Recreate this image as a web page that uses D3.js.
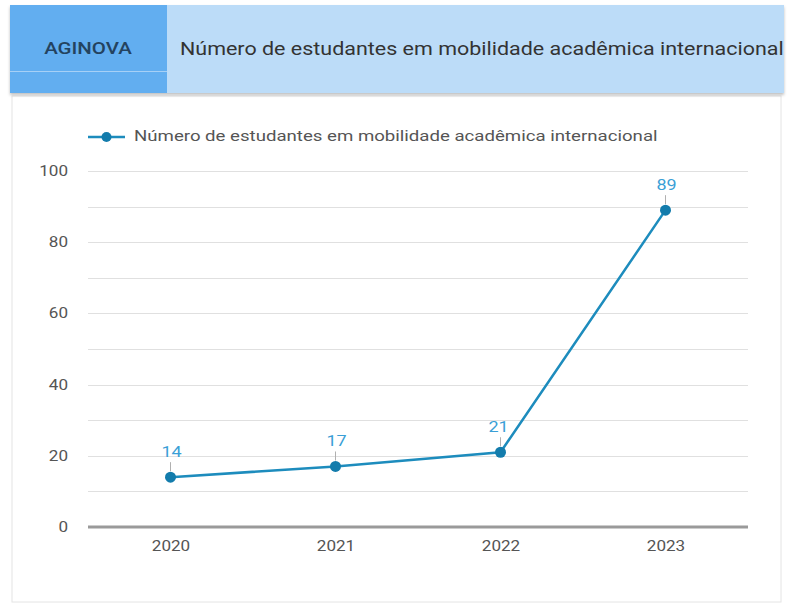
<!DOCTYPE html>
<html lang="pt">
<head>
  <meta charset="UTF-8">
  <title>Mobilidade acadêmica</title>
  <script src="https://d3js.org/d3.v7.min.js"></script>
  <style>
    body {
      margin: 0;
      background: #fff;
      font-family: Roboto, "Noto Sans", sans-serif;
    }
    #chart {
      width: 793px;
      height: 604px;
    }
  </style>
</head>
<body>
  <div id="chart"></div>

  <script>
    const years = ["2020", "2021", "2022", "2023"];
    const students = [14, 17, 21, 89];
    const yTicks = [0, 20, 40, 60, 80, 100];
    const brand = "AGINOVA";
    const title = "Número de estudantes em mobilidade acadêmica internacional";
    const seriesName = "Número de estudantes em mobilidade acadêmica internacional";

    const width = 793, height = 604;
    const margin = { left: 88, right: 45, top: 171, bottom: 77 };

    // the source picture has wide, stretched lettering
    function stretch(sel, k) {
      sel.each(function () {
        const len = this.getComputedTextLength();
        d3.select(this)
          .attr("textLength", len * k)
          .attr("lengthAdjust", "spacingAndGlyphs");
      });
    }

    const svg = d3.select("#chart").append("svg")
      .attr("width", width)
      .attr("height", height);

    const defs = svg.append("defs");
    const shadow = defs.append("filter").attr("id", "shadow")
      .attr("x", "-5%").attr("y", "-10%").attr("width", "110%").attr("height", "130%");
    shadow.append("feDropShadow")
      .attr("dx", 0).attr("dy", 2).attr("stdDeviation", 1.5)
      .attr("flood-color", "#000").attr("flood-opacity", 0.25);

    // card body
    svg.append("rect")
      .attr("x", 12).attr("y", 96)
      .attr("width", width - 24).attr("height", 506)
      .attr("fill", "#fff")
      .attr("stroke", "#e4e4e4");

    // header
    const header = svg.append("g").attr("filter", "url(#shadow)");
    header.append("rect")
      .attr("x", 10).attr("y", 5)
      .attr("width", 774).attr("height", 88)
      .attr("fill", "#bcdcf8");
    header.append("rect")
      .attr("x", 10).attr("y", 5)
      .attr("width", 157).attr("height", 88)
      .attr("fill", "#62aef0");
    svg.append("line")
      .attr("x1", 10).attr("x2", 167)
      .attr("y1", 71.5).attr("y2", 71.5)
      .attr("stroke", "#a6d0f6").attr("stroke-width", 1);

    svg.append("text")
      .attr("x", 88).attr("y", 50)
      .attr("text-anchor", "middle")
      .attr("dominant-baseline", "middle")
      .attr("font-size", 16)
      .attr("font-weight", 500)
      .attr("fill", "#24435f")
      .text(brand)
      .call(stretch, 1.28);

    svg.append("text")
      .attr("x", 180).attr("y", 50)
      .attr("dominant-baseline", "middle")
      .attr("font-size", 19)
      .attr("fill", "#333")
      .text(title)
      .call(stretch, 1.13);

    const x = d3.scalePoint()
      .domain(years)
      .range([margin.left, width - margin.right])
      .padding(0.5);

    const y = d3.scaleLinear()
      .domain([0, 100])
      .range([height - margin.bottom, margin.top]);

    // gridlines every 10
    svg.append("g")
      .selectAll("line")
      .data(d3.range(10, 101, 10))
      .join("line")
      .attr("x1", margin.left).attr("x2", width - margin.right)
      .attr("y1", d => Math.round(y(d)) + 0.5)
      .attr("y2", d => Math.round(y(d)) + 0.5)
      .attr("stroke", "#e0e0e0");

    // y axis labels
    const yAxis = svg.append("g")
      .attr("transform", `translate(${margin.left - 20},0)`)
      .call(d3.axisLeft(y).tickValues(yTicks).tickSize(0).tickPadding(0));
    yAxis.select(".domain").remove();
    yAxis.selectAll("text")
      .attr("font-family", "Roboto, sans-serif")
      .attr("font-size", 14)
      .attr("fill", "#555")
      .call(stretch, 1.22);

    // x axis
    const xAxis = svg.append("g")
      .attr("transform", `translate(0,${y(0)})`)
      .call(d3.axisBottom(x).tickSize(0).tickPadding(14));
    xAxis.select(".domain")
      .attr("stroke", "#9a9a9a")
      .attr("stroke-width", 3)
      .attr("d", `M${margin.left},0H${width - margin.right}`);
    xAxis.selectAll("text")
      .attr("font-family", "Roboto, sans-serif")
      .attr("font-size", 14)
      .attr("fill", "#555")
      .call(stretch, 1.22);

    const lineColor = "#1d8cbd";
    const dotColor = "#137cac";

    const line = d3.line()
      .x((d, i) => x(years[i]))
      .y(d => y(d));

    svg.append("path")
      .datum(students)
      .attr("fill", "none")
      .attr("stroke", lineColor)
      .attr("stroke-width", 2.5)
      .attr("d", line);

    svg.append("g")
      .selectAll("circle")
      .data(students)
      .join("circle")
      .attr("cx", (d, i) => x(years[i]))
      .attr("cy", d => y(d))
      .attr("r", 5.5)
      .attr("fill", dotColor);

    // value labels with leader ticks
    svg.append("g")
      .selectAll("line")
      .data(students)
      .join("line")
      .attr("x1", (d, i) => x(years[i]))
      .attr("x2", (d, i) => x(years[i]))
      .attr("y1", d => y(d) - 15)
      .attr("y2", d => y(d) - 6)
      .attr("stroke", "#b0b0b0")
      .attr("stroke-width", 1);

    svg.append("g")
      .selectAll("text")
      .data(students)
      .join("text")
      .attr("x", (d, i) => x(years[i]) + (i === 2 ? -2 : 1))
      .attr("y", d => y(d) - 20)
      .attr("text-anchor", "middle")
      .attr("font-size", 15)
      .attr("fill", "#3b9fd6")
      .text(d => d)
      .call(stretch, 1.2);

    // legend
    const legend = svg.append("g").attr("transform", "translate(88,137)");
    legend.append("line")
      .attr("x1", 0).attr("x2", 37)
      .attr("stroke", lineColor).attr("stroke-width", 2.5);
    legend.append("circle")
      .attr("cx", 18.5).attr("r", 5)
      .attr("fill", dotColor);
    legend.append("text")
      .attr("x", 46)
      .attr("dominant-baseline", "middle")
      .attr("font-size", 14)
      .attr("fill", "#555")
      .text(seriesName)
      .call(stretch, 1.33);
  </script>
</body>
</html>
